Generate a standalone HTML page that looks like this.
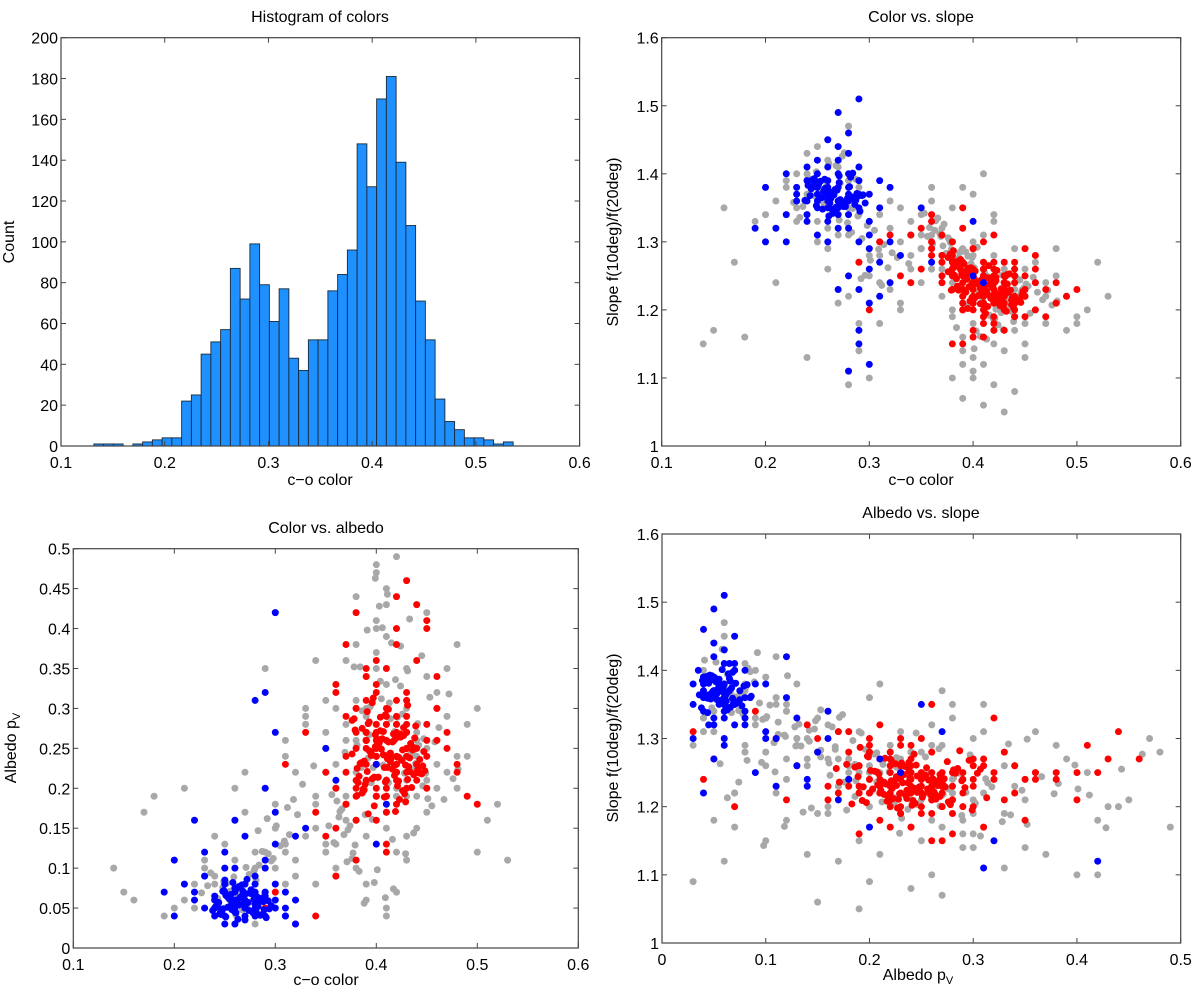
<!DOCTYPE html>
<html><head><meta charset="utf-8"><style>
html,body{margin:0;padding:0;background:#fff;}
svg{display:block;font-family:"Liberation Sans",Arial,sans-serif;}
</style></head><body>
<svg id="fig" width="1200" height="991" viewBox="0 0 1200 991" xmlns="http://www.w3.org/2000/svg"></svg>
<script>
// ---------- Histogram data ----------
const histStart = 0.1317;
const histBinWidth = 0.0094;
const histCounts = [1,1,1,0,1,2,3,4,4,22,25,45,51,57,87,72,99,79,61,77,43,37,52,52,76,84,96,148,127,170,181,139,108,71,52,23,12,8,4,4,3,1,2];

// ---------- Blue group (color, slope, albedo) ----------
const blueColor = [0.27,0.26,0.28,0.25,0.29,0.27,0.24,0.26,0.28,0.25,0.23,0.27,0.29,0.26,0.28,0.24,0.27,0.30,0.25,0.26,0.28,0.23,0.22,0.27,0.29,0.25,0.24,0.26,0.28,0.30,0.27,0.31,0.29,0.30,0.31,0.28,0.29,0.31,0.30,0.32,0.21,0.19,0.20,0.22,0.20,0.33,0.32,0.30,0.29,0.27,0.26,0.25,0.28,0.27,0.29,0.26,0.30,0.28,0.29,0.24,0.25,0.26,0.27,0.28,0.29,0.23,0.24,0.26,0.27,0.28,0.25,0.31,0.32,0.35,0.40,0.41,0.36,0.40,0.30,0.22,
0.262,0.274,0.251,0.283,0.268,0.245,0.279,0.257,0.291,0.266,0.248,0.276,0.259,0.287,0.271,0.243,0.264,0.281,0.254,0.296,0.269,0.247,0.277,0.261,0.285,0.252,0.273,0.258,0.289,0.265,0.241,0.278,0.256,0.284,0.263,0.249,0.271,0.294,0.255,0.267,0.238,0.282,0.259,0.275,0.246,0.288,0.262,0.253,0.279,0.268,0.244,0.272,0.257,0.286,0.264,0.251,0.276,0.293,0.261,0.248];
const blueSlope = [1.38,1.36,1.40,1.37,1.35,1.34,1.39,1.41,1.37,1.35,1.38,1.42,1.39,1.33,1.36,1.36,1.36,1.37,1.40,1.38,1.43,1.36,1.40,1.44,1.41,1.42,1.34,1.35,1.34,1.33,1.32,1.35,1.30,1.29,1.27,1.25,1.23,1.22,1.26,1.30,1.32,1.32,1.38,1.30,1.30,1.28,1.24,1.21,1.17,1.23,1.30,1.31,1.46,1.49,1.51,1.45,1.12,1.11,1.15,1.33,1.38,1.39,1.40,1.38,1.37,1.37,1.41,1.37,1.35,1.32,1.36,1.39,1.38,1.35,1.25,1.24,1.27,1.33,1.31,1.34,
1.372,1.358,1.384,1.366,1.351,1.391,1.362,1.378,1.345,1.369,1.386,1.354,1.375,1.361,1.397,1.368,1.348,1.381,1.365,1.357,1.376,1.393,1.352,1.371,1.363,1.388,1.356,1.379,1.367,1.342,1.383,1.359,1.374,1.401,1.364,1.353,1.387,1.369,1.348,1.377,1.361,1.395,1.366,1.352,1.382,1.371,1.357,1.389,1.364,1.346,1.378,1.362,1.392,1.355,1.373,1.385,1.359,1.368,1.338,1.381];
const blueAlbedo = [0.06,0.05,0.07,0.04,0.06,0.08,0.05,0.06,0.05,0.07,0.09,0.05,0.04,0.06,0.08,0.06,0.04,0.05,0.08,0.10,0.06,0.12,0.07,0.05,0.07,0.12,0.04,0.03,0.06,0.08,0.05,0.07,0.10,0.06,0.05,0.09,0.11,0.04,0.13,0.03,0.08,0.07,0.04,0.06,0.11,0.15,0.14,0.17,0.20,0.14,0.16,0.10,0.04,0.05,0.06,0.07,0.42,0.31,0.32,0.05,0.03,0.045,0.035,0.055,0.065,0.05,0.065,0.075,0.055,0.045,0.085,0.04,0.06,0.25,0.23,0.18,0.21,0.13,0.27,0.16,
0.058,0.047,0.066,0.052,0.071,0.043,0.061,0.055,0.038,0.064,0.049,0.073,0.056,0.042,0.068,0.051,0.077,0.045,0.062,0.053,0.059,0.046,0.069,0.054,0.041,0.065,0.057,0.082,0.048,0.063,0.052,0.044,0.067,0.058,0.036,0.072,0.055,0.049,0.061,0.079,0.047,0.064,0.053,0.069,0.042,0.058,0.075,0.051,0.045,0.066,0.057,0.086,0.048,0.062,0.054,0.039,0.068,0.059,0.044,0.071];

// ---------- Red group ----------
const redColor = [0.40,0.42,0.39,0.41,0.43,0.38,0.44,0.40,0.41,0.42,0.39,0.43,0.45,0.37,0.40,0.41,0.42,0.44,0.38,0.40,0.41,0.43,0.39,0.42,0.40,0.44,0.36,0.41,0.45,0.39,0.42,0.40,0.38,0.43,0.41,0.46,0.37,0.40,0.42,0.44,0.39,0.41,0.43,0.40,0.38,0.42,0.45,0.41,0.39,0.43,0.35,0.36,0.37,0.34,0.36,0.38,0.35,0.37,0.39,0.36,0.47,0.48,0.46,0.49,0.45,0.47,0.44,0.46,0.48,0.50,0.40,0.41,0.42,0.39,0.43,0.40,0.44,0.41,0.38,0.42,0.38,0.37,0.39,0.36,0.40,0.42,0.43,0.45,0.41,0.44,0.33,0.31,0.29,0.30,0.34,0.32,0.42,0.40,0.43,0.41,0.39,0.40,0.42,0.41,0.43,0.38,0.44,0.40,0.39,0.41,0.42,0.43,0.40,0.41,0.37,0.45,0.38,0.46,0.39,0.42,0.44,0.40,0.41,0.43,0.39,0.42,0.38,0.41,0.40,0.43,
0.385,0.402,0.417,0.393,0.428,0.376,0.411,0.437,0.398,0.421,0.406,0.382,0.414,0.433,0.391,0.425,0.408,0.379,0.446,0.402,0.418,0.395,0.431,0.387,0.412,0.441,0.399,0.423,0.405,0.384,0.427,0.396,0.415,0.438,0.389,0.409,0.432,0.401,0.419,0.376,0.443,0.392,0.413,0.426,0.403,0.381,0.436,0.397,0.422,0.407,0.388,0.416,0.429,0.394,0.448,0.404,0.383,0.424,0.411,0.435,0.399,0.418,0.386,0.431,0.407,0.392,0.427,0.414,0.378,0.445,0.403,0.421,0.395,0.439,0.408,0.386,0.417,0.433,0.398,0.412,0.426,0.391,0.404,0.443,0.381,0.419,0.429,0.396,0.413,0.437,0.401,0.385,0.424,0.409,0.447,0.393,0.416,0.434,0.388,0.422];
const redSlope = [1.24,1.22,1.25,1.23,1.21,1.26,1.22,1.20,1.27,1.24,1.23,1.25,1.22,1.28,1.21,1.19,1.24,1.26,1.23,1.25,1.22,1.20,1.27,1.23,1.26,1.21,1.30,1.25,1.23,1.22,1.19,1.24,1.28,1.22,1.26,1.24,1.31,1.23,1.21,1.25,1.20,1.22,1.24,1.29,1.27,1.25,1.19,1.21,1.23,1.22,1.32,1.29,1.27,1.31,1.33,1.30,1.26,1.28,1.35,1.34,1.23,1.21,1.26,1.22,1.25,1.19,1.27,1.20,1.24,1.23,1.17,1.16,1.18,1.15,1.17,1.16,1.19,1.18,1.15,1.17,1.30,1.25,1.32,1.28,1.29,1.31,1.27,1.29,1.30,1.25,1.25,1.30,1.27,1.20,1.24,1.31,1.22,1.24,1.23,1.25,1.21,1.23,1.25,1.22,1.24,1.26,1.20,1.22,1.24,1.23,1.26,1.23,1.21,1.20,1.24,1.22,1.25,1.28,1.22,1.21,1.24,1.25,1.22,1.23,1.20,1.27,1.23,1.26,1.21,1.24,
1.235,1.218,1.247,1.226,1.209,1.256,1.231,1.214,1.262,1.241,1.222,1.251,1.205,1.238,1.268,1.216,1.244,1.229,1.211,1.257,1.233,1.202,1.249,1.273,1.225,1.212,1.239,1.258,1.221,1.246,1.207,1.234,1.265,1.219,1.252,1.228,1.198,1.243,1.236,1.277,1.215,1.254,1.224,1.206,1.241,1.263,1.229,1.213,1.248,1.232,1.259,1.221,1.204,1.245,1.227,1.238,1.271,1.211,1.235,1.253,1.218,1.242,1.266,1.224,1.209,1.256,1.231,1.247,1.282,1.214,1.239,1.226,1.261,1.203,1.244,1.229,1.217,1.252,1.236,1.195,1.223,1.268,1.241,1.212,1.287,1.234,1.219,1.255,1.227,1.208,1.246,1.264,1.215,1.232,1.221,1.249,1.238,1.226,1.274,1.243];
const redAlbedo = [0.24,0.22,0.26,0.21,0.28,0.19,0.25,0.23,0.30,0.18,0.27,0.24,0.20,0.22,0.33,0.26,0.29,0.23,0.16,0.25,0.21,0.27,0.31,0.24,0.19,0.22,0.15,0.28,0.26,0.34,0.23,0.36,0.20,0.25,0.13,0.30,0.18,0.27,0.40,0.22,0.25,0.17,0.32,0.24,0.21,0.38,0.28,0.12,0.26,0.29,0.14,0.20,0.24,0.17,0.32,0.11,0.22,0.18,0.26,0.09,0.27,0.22,0.34,0.19,0.40,0.25,0.43,0.30,0.23,0.18,0.24,0.28,0.21,0.26,0.31,0.19,0.23,0.35,0.27,0.22,0.25,0.29,0.21,0.33,0.23,0.44,0.46,0.41,0.20,0.36,0.27,0.23,0.05,0.07,0.04,0.03,0.27,0.25,0.22,0.24,0.26,0.28,0.23,0.21,0.25,0.30,0.22,0.20,0.35,0.19,0.31,0.27,0.16,0.29,0.38,0.24,0.42,0.26,0.23,0.28,0.21,0.32,0.19,0.25,0.27,0.22,0.30,0.24,0.26,0.20,
0.232,0.214,0.268,0.247,0.193,0.285,0.226,0.251,0.178,0.239,0.262,0.207,0.244,0.221,0.296,0.235,0.189,0.273,0.228,0.255,0.216,0.241,0.304,0.199,0.258,0.223,0.267,0.186,0.249,0.231,0.276,0.212,0.238,0.263,0.205,0.292,0.227,0.254,0.171,0.243,0.219,0.281,0.236,0.197,0.261,0.225,0.248,0.313,0.209,0.271,0.234,0.258,0.183,0.246,0.222,0.289,0.215,0.264,0.237,0.201,0.252,0.229,0.275,0.211,0.242,0.168,0.266,0.233,0.287,0.218,0.257,0.203,0.245,0.278,0.226,0.194,0.259,0.238,0.214,0.299,0.248,0.221,0.272,0.236,0.191,0.262,0.229,0.307,0.243,0.217,0.254,0.231,0.268,0.208,0.246,0.283,0.224,0.256,0.198,0.239];

// ---------- Gray (unclassified) ----------
const grayColor = [0.25,0.27,0.23,0.29,0.26,0.28,0.24,0.30,0.22,0.31,0.26,0.28,0.25,0.27,0.29,0.23,0.30,0.32,0.24,0.26,0.28,0.21,0.27,0.25,0.29,0.31,0.33,0.26,0.24,0.28,0.30,0.32,0.27,0.25,0.23,0.29,0.31,0.28,0.26,0.34,0.22,0.20,0.18,0.16,0.14,0.17,0.19,0.21,0.15,0.24,0.33,0.31,0.29,0.32,0.30,0.34,0.28,0.33,0.31,0.35,
0.38,0.40,0.42,0.36,0.44,0.39,0.41,0.43,0.37,0.45,0.40,0.35,0.42,0.38,0.46,0.41,0.39,0.43,0.37,0.44,0.36,0.40,0.42,0.38,0.45,0.41,0.39,0.47,0.35,0.43,0.40,0.44,0.37,0.42,0.48,0.39,0.41,0.36,0.46,0.38,0.43,0.40,0.45,0.37,0.41,0.39,0.44,0.42,0.36,0.40,0.38,0.43,0.41,0.47,0.39,0.42,0.35,0.44,0.40,0.46,0.37,0.41,0.43,0.38,0.45,0.40,0.42,0.39,0.44,0.36,0.49,0.50,0.48,0.51,0.47,0.52,0.49,0.53,0.50,0.48,0.34,0.35,0.36,0.33,0.37,0.34,0.36,0.35,0.38,0.34,0.42,0.39,0.41,0.44,0.40,0.43,0.38,0.45,0.41,0.39,
0.243,0.267,0.281,0.255,0.298,0.272,0.236,0.289,0.261,0.305,0.248,0.276,0.314,0.259,0.284,0.227,0.293,0.268,0.322,0.252,0.279,0.241,0.301,0.264,0.287,0.318,0.256,0.274,0.309,0.233,0.296,0.263,0.327,0.283,0.249,0.312,0.271,0.338,0.292,0.258,
0.392,0.418,0.374,0.436,0.405,0.361,0.447,0.383,0.421,0.412,0.368,0.431,0.397,0.455,0.386,0.409,0.442,0.377,0.424,0.401,0.358,0.415,0.438,0.389,0.462,0.403,0.371,0.428,0.394,0.451,0.381,0.416,0.445,0.366,0.407,0.433,0.398,0.472,0.387,0.422,0.353,0.411,0.439,0.376,0.426,0.395,0.458,0.384,0.417,0.404,0.363,0.434,0.391,0.449,0.379,0.413,0.467,0.399,0.427,0.372,0.441,0.388,0.419,0.356,0.406,0.481,0.393,0.429,0.378,0.446,0.364,0.414,0.437,0.385,0.453,0.401,0.369,0.424,0.396,0.476];
const graySlope = [1.38,1.36,1.40,1.34,1.42,1.31,1.37,1.33,1.39,1.30,1.45,1.35,1.33,1.41,1.38,1.35,1.28,1.32,1.43,1.29,1.39,1.36,1.31,1.44,1.27,1.34,1.30,1.26,1.40,1.22,1.25,1.36,1.21,1.30,1.33,1.18,1.28,1.47,1.32,1.31,1.38,1.34,1.16,1.35,1.15,1.27,1.33,1.24,1.17,1.13,1.20,1.18,1.14,1.23,1.10,1.26,1.09,1.21,1.24,1.29,
1.26,1.22,1.24,1.30,1.21,1.27,1.19,1.25,1.32,1.23,1.18,1.34,1.28,1.24,1.20,1.16,1.29,1.22,1.27,1.17,1.31,1.25,1.15,1.28,1.26,1.21,1.35,1.22,1.29,1.14,1.30,1.19,1.25,1.33,1.21,1.12,1.27,1.36,1.24,1.20,1.23,1.37,1.18,1.26,1.31,1.23,1.29,1.17,1.33,1.13,1.28,1.26,1.20,1.18,1.38,1.22,1.31,1.25,1.10,1.27,1.24,1.40,1.21,1.19,1.15,1.28,1.34,1.16,1.23,1.26,1.22,1.18,1.25,1.20,1.24,1.27,1.17,1.22,1.19,1.29,1.33,1.29,1.26,1.35,1.22,1.31,1.38,1.24,1.35,1.28,1.09,1.07,1.12,1.08,1.11,1.05,1.10,1.13,1.06,1.14,
1.372,1.345,1.398,1.361,1.324,1.386,1.352,1.338,1.415,1.317,1.367,1.431,1.296,1.383,1.349,1.358,1.305,1.412,1.284,1.376,1.328,1.394,1.273,1.341,1.392,1.262,1.357,1.426,1.289,1.336,1.251,1.368,1.277,1.314,1.403,1.236,1.332,1.268,1.246,1.355,
1.254,1.218,1.283,1.206,1.241,1.297,1.229,1.265,1.187,1.236,1.312,1.224,1.258,1.195,1.276,1.213,1.247,1.303,1.178,1.262,1.321,1.234,1.209,1.288,1.226,1.169,1.294,1.251,1.205,1.238,1.273,1.192,1.244,1.335,1.161,1.217,1.268,1.229,1.284,1.201,1.342,1.255,1.183,1.306,1.221,1.279,1.248,1.174,1.236,1.292,1.317,1.203,1.261,1.232,1.289,1.157,1.215,1.277,1.196,1.326,1.242,1.263,1.188,1.308,1.226,1.213,1.285,1.171,1.299,1.224,1.331,1.249,1.198,1.272,1.235,1.143,1.308,1.219,1.264,1.207];
const grayAlbedo = [0.07,0.05,0.09,0.06,0.11,0.04,0.08,0.10,0.05,0.13,0.06,0.12,0.04,0.08,0.07,0.11,0.15,0.09,0.06,0.03,0.10,0.06,0.17,0.05,0.12,0.08,0.14,0.20,0.09,0.07,0.18,0.11,0.22,0.13,0.10,0.05,0.24,0.06,0.16,0.19,0.08,0.05,0.19,0.06,0.10,0.17,0.04,0.20,0.07,0.14,0.29,0.26,0.35,0.22,0.42,0.18,0.03,0.30,0.12,0.27,
0.22,0.28,0.18,0.30,0.25,0.14,0.33,0.21,0.26,0.17,0.35,0.12,0.24,0.38,0.20,0.29,0.08,0.31,0.16,0.27,0.23,0.41,0.19,0.10,0.34,0.45,0.26,0.22,0.13,0.30,0.47,0.15,0.36,0.28,0.24,0.06,0.39,0.20,0.32,0.44,0.11,0.27,0.42,0.18,0.05,0.34,0.26,0.49,0.09,0.37,0.25,0.14,0.43,0.29,0.21,0.07,0.31,0.19,0.40,0.23,0.28,0.04,0.35,0.16,0.25,0.48,0.12,0.30,0.22,0.33,0.28,0.12,0.20,0.16,0.35,0.18,0.24,0.11,0.30,0.38,0.15,0.22,0.10,0.28,0.19,0.36,0.13,0.25,0.31,0.08,0.20,0.27,0.17,0.24,0.33,0.19,0.26,0.21,0.15,0.29,
0.062,0.048,0.085,0.071,0.112,0.053,0.094,0.067,0.041,0.128,0.076,0.058,0.142,0.089,0.104,0.069,0.118,0.052,0.167,0.081,0.097,0.063,0.153,0.074,0.121,0.186,0.057,0.092,0.134,0.078,0.109,0.066,0.205,0.147,0.083,0.176,0.101,0.228,0.162,0.072,
0.238,0.271,0.153,0.224,0.312,0.184,0.262,0.096,0.289,0.207,0.142,0.347,0.226,0.178,0.297,0.063,0.254,0.119,0.328,0.213,0.132,0.382,0.241,0.167,0.276,0.428,0.108,0.219,0.302,0.187,0.254,0.136,0.366,0.174,0.229,0.412,0.082,0.318,0.196,0.268,0.153,0.443,0.231,0.112,0.293,0.207,0.258,0.352,0.074,0.334,0.164,0.246,0.398,0.219,0.129,0.307,0.186,0.463,0.237,0.148,0.281,0.056,0.336,0.192,0.401,0.224,0.267,0.118,0.352,0.203,0.171,0.287,0.144,0.226,0.314,0.098,0.245,0.378,0.161,0.212];

// tick labels
const colorTicks = [0.1,0.2,0.3,0.4,0.5,0.6];
const countTicks = [0,20,40,60,80,100,120,140,160,180,200];
const slopeTicks = [1,1.1,1.2,1.3,1.4,1.5,1.6];
const albedoTicksY = [0,0.05,0.1,0.15,0.2,0.25,0.3,0.35,0.4,0.45,0.5];
const albedoTicksX = [0,0.1,0.2,0.3,0.4,0.5];

const NS = "http://www.w3.org/2000/svg";
const svg = document.getElementById('fig');
function mk(tag, attrs, parent){
  const e = document.createElementNS(NS, tag);
  for (const k in attrs) e.setAttribute(k, attrs[k]);
  (parent||svg).appendChild(e);
  return e;
}
function fmt(v){ return String(+v.toFixed(2)); }

function makeAxes(name, box, xd, yd, xt, yt){
  const g = mk('g', {});
  
  
  const sx = v => box.x0 + (v - xd[0]) / (xd[1] - xd[0]) * (box.x1 - box.x0);
  const sy = v => box.y1 - (v - yd[0]) / (yd[1] - yd[0]) * (box.y1 - box.y0);
  const plot = mk('g', {}, g);
  
  
  const frame = mk('g', {}, g);
  
  
  const drawFrame = () => {
    const r = mk('rect', {x:box.x0, y:box.y0, width:box.x1-box.x0, height:box.y1-box.y0, fill:'none', stroke:'#444', 'stroke-width':1.2}, frame);
    
    
    xt.forEach(v => {
      const x = sx(v);
      mk('line', {x1:x, x2:x, y1:box.y1, y2:box.y1-5, stroke:'#444'}, frame);
      mk('line', {x1:x, x2:x, y1:box.y0, y2:box.y0+5, stroke:'#444'}, frame);
      const t = mk('text', {x:x, y:box.y1+22, 'text-anchor':'middle', 'font-size':16, fill:'#000'}, frame);
      t.textContent = fmt(v);
      
      
    });
    yt.forEach(v => {
      const y = sy(v);
      mk('line', {x1:box.x0, x2:box.x0+5, y1:y, y2:y, stroke:'#444'}, frame);
      mk('line', {x1:box.x1, x2:box.x1-5, y1:y, y2:y, stroke:'#444'}, frame);
      const t = mk('text', {x:box.x0-3, y:y+6, 'text-anchor':'end', 'font-size':16, fill:'#000'}, frame);
      t.textContent = fmt(v);
      
      
    });
  };
  return {sx, sy, plot, g, drawFrame};
}
function title(txt, x, y, name){
  const t = mk('text', {x:x, y:y, 'text-anchor':'middle', 'font-size':16, fill:'#000'});
  t.textContent = txt;
  
  
  return t;
}
function ylab(txt, x, y, name, sub){
  const t = mk('text', {x:x, y:y, 'text-anchor':'middle', 'font-size':16, fill:'#000', transform:'rotate(-90 '+x+' '+y+')'});
  t.textContent = txt;
  if (sub){ const s = mk('tspan', {'font-size':11, dy:4}, t); s.textContent = sub; }
  
  
}
function xlab(txt, x, y, name, sub){
  const t = mk('text', {x:x, y:y, 'text-anchor':'middle', 'font-size':16, fill:'#000'});
  t.textContent = txt;
  if (sub){ const s = mk('tspan', {'font-size':11, dy:4}, t); s.textContent = sub; }
  
  
}
function scatter(ax, xs, ys, color, name){
  const g = mk('g', {fill:color}, ax.plot);
  
  
  for (let i = 0; i < xs.length; i++){
    const c = mk('circle', {cx:ax.sx(xs[i]), cy:ax.sy(ys[i]), r:3.5}, g);
    
    
  }
}

// ---------- Histogram ----------
const h = makeAxes('histogram-axes', {x0:61, x1:579.6, y0:37.7, y1:446}, [0.1,0.6], [0,200], colorTicks, countTicks);
histCounts.forEach((c, i) => {
  const a = histStart + i*histBinWidth, b = a + histBinWidth;
  if (c <= 0) return;
  const r = mk('rect', {x:h.sx(a), y:h.sy(c), width:h.sx(b)-h.sx(a), height:h.sy(0)-h.sy(c), fill:'#1e90ff', stroke:'#1a2a3a', 'stroke-width':0.9}, h.plot);
  
  
});
h.drawFrame();
title('Histogram of colors', 320, 22, 'histogram-title');
xlab('c\u2212o color', 320, 485, 'histogram-x-axis-title');
ylab('Count', 14, 242, 'histogram-y-axis-title');

// ---------- Color vs slope ----------
const a2 = makeAxes('color-slope-axes', {x0:661.7, x1:1180.7, y0:37.7, y1:446}, [0.1,0.6], [1,1.6], colorTicks, slopeTicks);
scatter(a2, grayColor, graySlope, '#a8a8a8', 'color-slope-gray-series');
scatter(a2, redColor, redSlope, '#ff0000', 'color-slope-red-series');
scatter(a2, blueColor, blueSlope, '#0000ff', 'color-slope-blue-series');
a2.drawFrame();
title('Color vs. slope', 921, 22, 'color-slope-title');
xlab('c\u2212o color', 921, 485, 'color-slope-x-axis-title');
ylab('Slope f(10deg)/f(20deg)', 618, 242, 'color-slope-y-axis-title');

// ---------- Color vs albedo ----------
const a3 = makeAxes('color-albedo-axes', {x0:73.3, x1:578.3, y0:548.7, y1:948}, [0.1,0.6], [0,0.5], colorTicks, albedoTicksY);
scatter(a3, grayColor, grayAlbedo, '#a8a8a8', 'color-albedo-gray-series');
scatter(a3, redColor, redAlbedo, '#ff0000', 'color-albedo-red-series');
scatter(a3, blueColor, blueAlbedo, '#0000ff', 'color-albedo-blue-series');
a3.drawFrame();
title('Color vs. albedo', 326, 533, 'color-albedo-title');
xlab('c\u2212o color', 326, 985, 'color-albedo-x-axis-title');
ylab('Albedo p', 16, 748, 'color-albedo-y-axis-title', 'V');

// ---------- Albedo vs slope ----------
const a4 = makeAxes('albedo-slope-axes', {x0:662, x1:1180.7, y0:534, y1:943}, [0,0.5], [1,1.6], albedoTicksX, slopeTicks);
scatter(a4, grayAlbedo, graySlope, '#a8a8a8', 'albedo-slope-gray-series');
scatter(a4, redAlbedo, redSlope, '#ff0000', 'albedo-slope-red-series');
scatter(a4, blueAlbedo, blueSlope, '#0000ff', 'albedo-slope-blue-series');
a4.drawFrame();
title('Albedo vs. slope', 921, 518, 'albedo-slope-title');
xlab('Albedo p', 918, 980, 'albedo-slope-x-axis-title', 'V');
ylab('Slope f(10deg)/f(20deg)', 618, 738, 'albedo-slope-y-axis-title');
</script>
</body></html>
